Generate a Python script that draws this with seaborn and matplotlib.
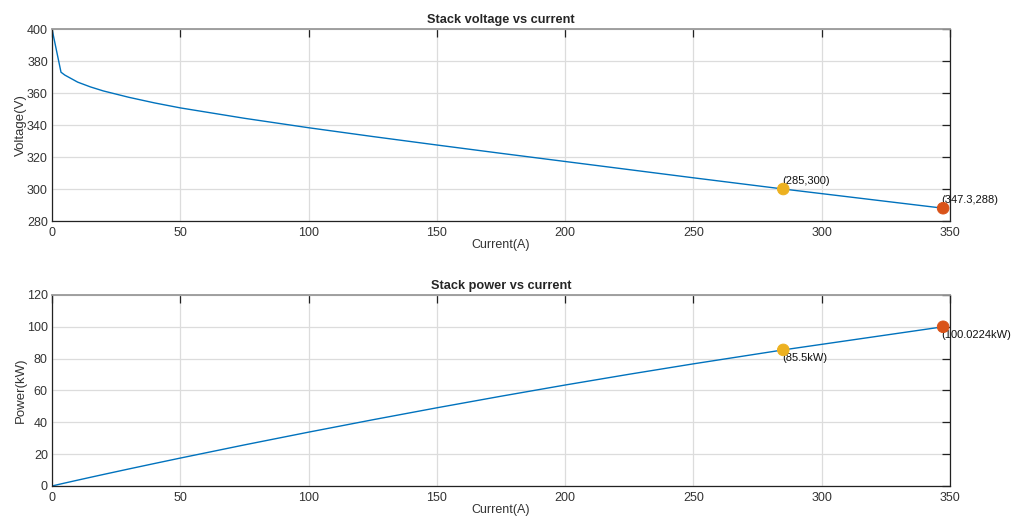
import matplotlib
matplotlib.use("Agg")
import matplotlib.pyplot as plt
import seaborn as sns
import pandas as pd

# Data
current = [0, 3.5, 5, 10, 15, 20, 30, 40, 50, 75, 100, 125, 150, 175, 200, 225, 250, 285, 347.3]
voltage = [400, 373, 371.2, 366.8, 363.8, 361.3, 357.3, 353.8, 350.7, 344.2, 338.3, 332.8, 327.5, 322.3, 317.2, 312.1, 307.0, 300, 288]
power = [0, 1.31, 1.86, 3.67, 5.46, 7.23, 10.72, 14.15, 17.54, 25.82, 33.83, 41.6, 49.13, 56.4, 63.44, 70.22, 76.75, 85.5, 100.0224]

mark_current = [285, 347.3]
mark_voltage = [300, 288]
mark_power = [85.5, 100.0224]
mark_vlabels = ["(285,300)", "(347.3,288)"]
mark_plabels = ["(85.5kW)", "(100.0224kW)"]
mark_colors = ["#EDB120", "#D95319"]

xticks = [0, 50, 100, 150, 200, 250, 300, 350]
vticks = [280, 300, 320, 340, 360, 380, 400]
pticks = [0, 20, 40, 60, 80, 100, 120]

sns.set_style("white")
plt.rcParams['font.family'] = ['Liberation Sans', 'DejaVu Sans']

df = pd.DataFrame({"current": current, "voltage": voltage, "power": power})
mk = pd.DataFrame({"current": mark_current, "voltage": mark_voltage,
                   "power": mark_power, "c": ["a", "b"]})

fig = plt.figure(figsize=(10.16, 5.21), dpi=100)
ax1 = fig.add_axes([0.0512, 0.5758, 0.8839, 0.3685])
ax2 = fig.add_axes([0.0512, 0.0672, 0.8839, 0.3666])

line_color = "#0072BD"

def style(ax, yt, ylim, ylabel, title):
    ax.set_xlim(0, 350)
    ax.set_ylim(*ylim)
    ax.set_xticks(xticks)
    ax.set_yticks(yt)
    ax.grid(True, color="#dcdcdc", linewidth=0.9)
    ax.set_axisbelow(True)
    ax.tick_params(direction="in", length=6, width=0.9, top=True, right=True,
                   labelsize=9, colors="#222222", labelcolor="#333333", pad=3)
    ax.tick_params(axis="x", pad=4)
    for s in ["left", "bottom", "right"]:
        ax.spines[s].set_color("#222222")
        ax.spines[s].set_linewidth(0.9)
    ax.spines["top"].set_color("#999999")
    ax.spines["top"].set_linewidth(1.3)
    ax.set_xlabel("Current(A)", fontsize=9, color="#333333", labelpad=0)
    ax.set_ylabel(ylabel, fontsize=9.5, color="#333333", labelpad=0)
    ax.set_title(title, fontsize=9.2, fontweight="bold", pad=4)

sns.lineplot(data=df, x="current", y="voltage", ax=ax1, color=line_color, linewidth=1)
sns.scatterplot(data=mk, x="current", y="voltage", hue="c", palette=mark_colors,
                s=70, edgecolor=None, legend=False, ax=ax1, zorder=5)
style(ax1, vticks, (280, 400), "Voltage(V)", "Stack voltage vs current")
for x, y, t in zip(mark_current, mark_voltage, mark_vlabels):
    ax1.annotate(t, (x, y), xytext=(-1, 2), textcoords="offset points",
                 fontsize=8, ha="left", va="bottom", color="#111111")

sns.lineplot(data=df, x="current", y="power", ax=ax2, color=line_color, linewidth=1)
sns.scatterplot(data=mk, x="current", y="power", hue="c", palette=mark_colors,
                s=70, edgecolor=None, legend=False, ax=ax2, zorder=5)
style(ax2, pticks, (0, 120), "Power(kW)", "Stack power vs current")
for x, y, t in zip(mark_current, mark_power, mark_plabels):
    ax2.annotate(t, (x, y), xytext=(-1, -2), textcoords="offset points",
                 fontsize=8, ha="left", va="top", color="#111111")

fig.savefig("out.png", dpi=100)
